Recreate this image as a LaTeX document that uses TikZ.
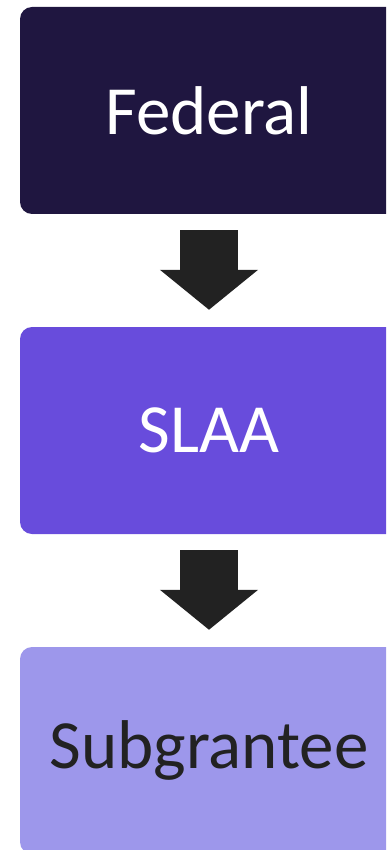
\documentclass[tikz,border=0pt]{standalone}
\usepackage{fontspec}
\setmainfont{Carlito}
\usepackage{tikz}
\usetikzlibrary{arrows.meta}

\definecolor{federalc}{RGB}{31,22,64}
\definecolor{slaac}{RGB}{104,76,220}
\definecolor{subc}{RGB}{157,151,235}
\definecolor{arrowc}{RGB}{34,34,34}

\begin{document}
\begin{tikzpicture}[
      x=1pt,
      y=-1pt,
      niveau/.style={
        rectangle,
        rounded corners=12pt,
        minimum width=378pt,
        minimum height=207pt,
        inner sep=0pt,
        font=\fontsize{69}{82}\selectfont
      },
      fleche/.style={
        arrowc,
        line width=58pt,
        -{Triangle[length=40pt,width=96pt]}
      }
    ]
      \useasboundingbox (0,0) rectangle (386,850);
      \clip (0,0) rectangle (386,850);

      \node (federal) at (209,110.5) [niveau,fill=federalc,text=white]{Federal};
      \node (slaa) at (209,430.5) [niveau,fill=slaac,text=white]{SLAA};
      \node (sub) at (209,750.5) [niveau,fill=subc,text=arrowc]{Subgrantee};

      \draw[fleche] ([yshift=-16pt]federal.south) -- ([yshift=17pt]slaa.north);
      \draw[fleche] ([yshift=-16pt]slaa.south) -- ([yshift=17pt]sub.north);

    \end{tikzpicture}
\end{document}
